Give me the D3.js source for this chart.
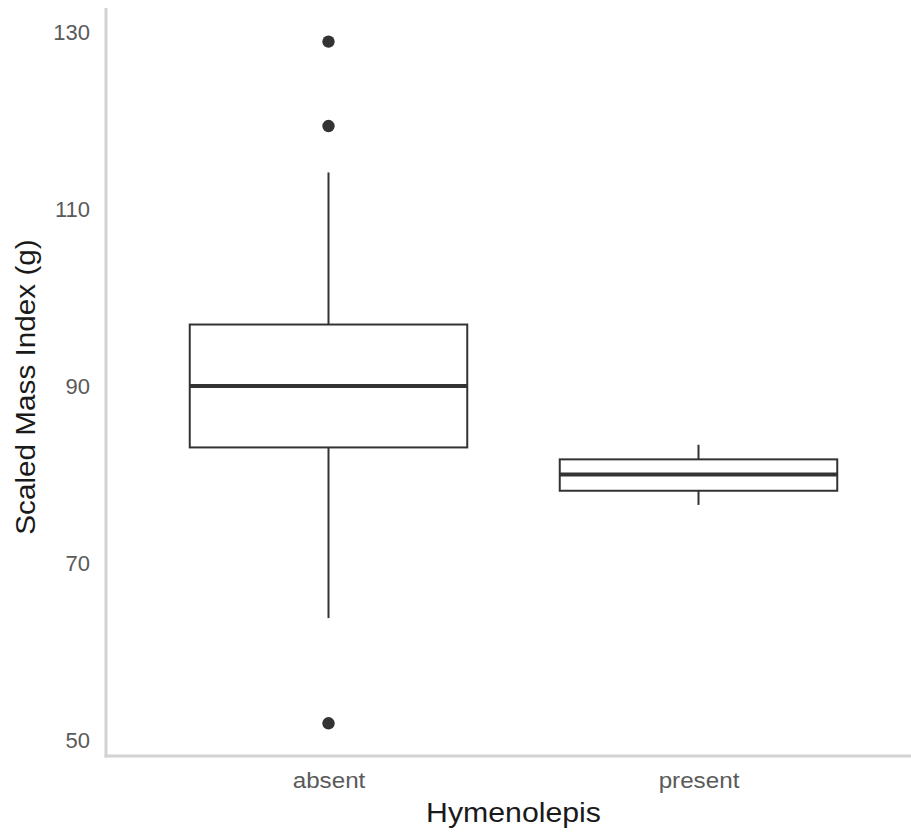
<!DOCTYPE html>
<html>
<head>
<meta charset="utf-8">
<script src="https://cdn.jsdelivr.net/npm/d3@7"></script>
<style>
  html, body { margin: 0; padding: 0; background: #fff; }
  svg { display: block; }
  text { font-family: "Liberation Sans", Arial, Helvetica, sans-serif; }
</style>
</head>
<body>
<svg id="chart" width="911" height="833"></svg>
<script>
// ---- data ----
const categories   = ["absent", "present"];
const whiskerLow   = [63.8, 76.6];
const q1           = [83.1, 78.2];
const median       = [90.05, 80.05];
const q3           = [97.0, 81.75];
const whiskerHigh  = [114.2, 83.4];
const outliers     = [[129.0, 119.45, 51.9], []];
const yTicks       = [50, 70, 90, 110, 130];
const xTitle = "Hymenolepis";
const yTitle = "Scaled Mass Index (g)";

// ---- layout ----
const svg = d3.select("#chart");
const panel = { left: 106.5, right: 920.5, top: 8, bottom: 756 };

const x = d3.scalePoint().domain(categories).range([panel.left, panel.right]).padding(0.6);
const y = d3.scaleLinear().domain([48.2, 132.8]).range([panel.bottom, panel.top]);
const boxW = x.step() * 0.75;

const dark = "#333333";

function stretch(sel, f) {
  sel.each(function () {
    const w = this.getComputedTextLength();
    this.setAttribute("textLength", w * f);
    this.setAttribute("lengthAdjust", "spacingAndGlyphs");
  });
}

// boxes
const data = categories.map((c, i) => ({
  c, lo: whiskerLow[i], q1: q1[i], med: median[i], q3: q3[i], hi: whiskerHigh[i], out: outliers[i]
}));

const g = svg.append("g");
data.forEach(d => {
  const cx = x(d.c);
  // whiskers
  g.append("line").attr("x1", cx).attr("x2", cx).attr("y1", y(d.hi)).attr("y2", y(d.q3))
    .attr("stroke", dark).attr("stroke-width", 2);
  g.append("line").attr("x1", cx).attr("x2", cx).attr("y1", y(d.q1)).attr("y2", y(d.lo))
    .attr("stroke", dark).attr("stroke-width", 2);
  // box
  g.append("rect").attr("x", cx - boxW / 2).attr("width", boxW)
    .attr("y", y(d.q3)).attr("height", y(d.q1) - y(d.q3))
    .attr("fill", "#fff").attr("stroke", dark).attr("stroke-width", 2);
  // median
  g.append("line").attr("x1", cx - boxW / 2).attr("x2", cx + boxW / 2)
    .attr("y1", y(d.med)).attr("y2", y(d.med))
    .attr("stroke", dark).attr("stroke-width", 4);
  // outliers
  g.selectAll(null).data(d.out).enter().append("circle")
    .attr("cx", cx).attr("cy", v => y(v)).attr("r", 6.2).attr("fill", dark);
});

// axes lines
const axisColor = "#d2d2d2";
svg.append("line").attr("x1", 106).attr("x2", 106).attr("y1", panel.top).attr("y2", panel.bottom + 1.5)
  .attr("stroke", axisColor).attr("stroke-width", 3);
svg.append("line").attr("x1", 104.5).attr("x2", 911).attr("y1", panel.bottom).attr("y2", panel.bottom)
  .attr("stroke", axisColor).attr("stroke-width", 3);

// y axis labels
const yAxis = svg.append("g").attr("transform", `translate(106,0)`)
  .call(d3.axisLeft(y).tickValues(yTicks).tickSize(0).tickPadding(16).tickFormat(d3.format("d")));
yAxis.select(".domain").remove();
yAxis.selectAll("text").attr("font-size", 22).attr("fill", "#5a5a5a")
  .attr("font-family", "'Liberation Sans', Arial, sans-serif");

// x axis labels
const xAxis = svg.append("g").attr("transform", `translate(0,${panel.bottom})`)
  .call(d3.axisBottom(x).tickSize(0).tickPadding(16.5));
xAxis.select(".domain").remove();
xAxis.selectAll("text").attr("font-size", 22).attr("fill", "#5a5a5a")
  .attr("font-family", "'Liberation Sans', Arial, sans-serif");
stretch(xAxis.selectAll("text"), 1.1);

// titles
const xt = svg.append("text").attr("x", (panel.left + panel.right) / 2).attr("y", 822)
  .attr("text-anchor", "middle").attr("font-size", 27).attr("fill", "#1a1a1a").text(xTitle);
stretch(xt, 1.12);
const yt = svg.append("text").attr("transform", `translate(35,${(panel.top + panel.bottom) / 2 + 5}) rotate(-90)`)
  .attr("text-anchor", "middle").attr("font-size", 27).attr("fill", "#1a1a1a").text(yTitle);
stretch(yt, 1.1);
</script>
</body>
</html>
